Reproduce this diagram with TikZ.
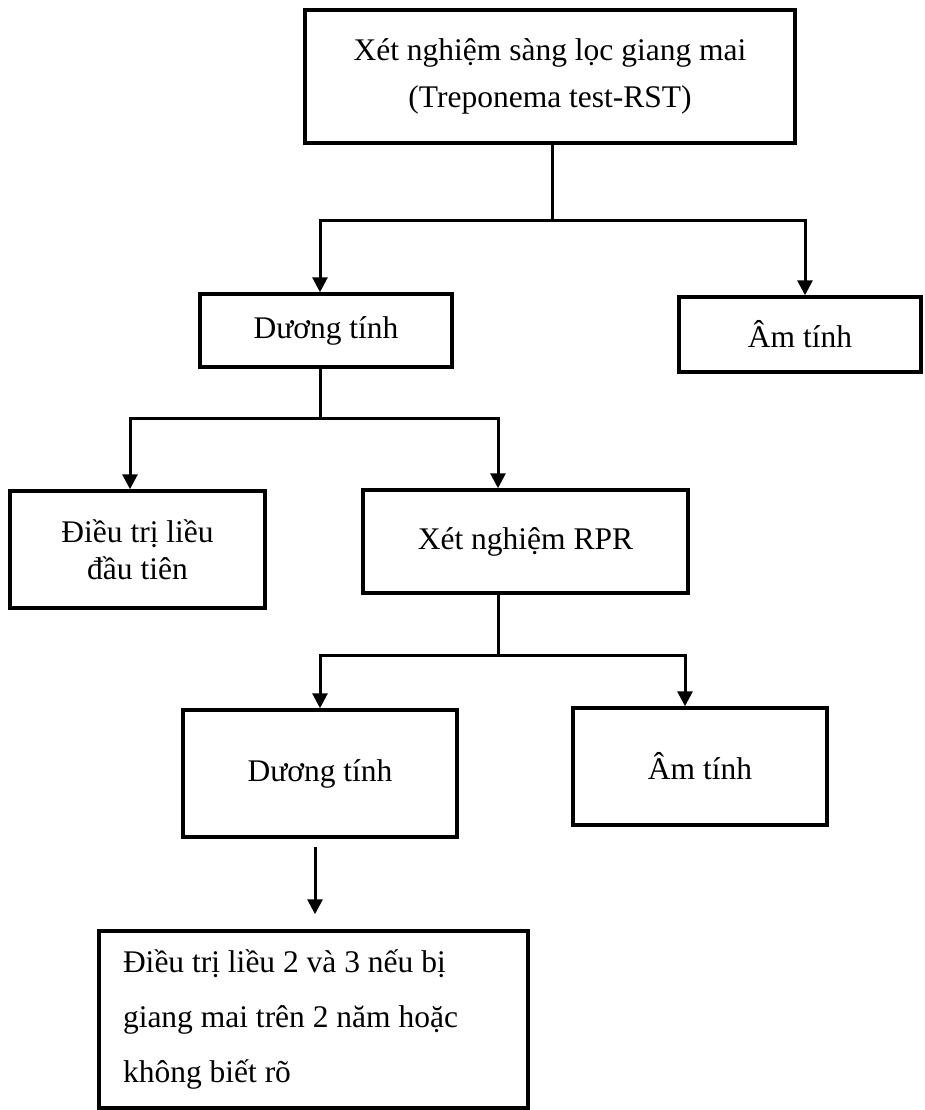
\documentclass[tikz,border=0pt]{standalone}
\usepackage{fontspec}
\setmainfont{Liberation Serif}
\usetikzlibrary{arrows.meta}
\tikzset{
  box/.style={draw=black, line width=3.5pt, inner sep=0pt, align=center, font=\fontsize{31.5}{38}\selectfont},
  conn/.style={draw=black, line width=3pt},
  arr/.style={conn, -{Triangle[width=15pt,length=15pt]}},
}
\begin{document}
\begin{tikzpicture}[x=1pt,y=-1pt]
\useasboundingbox (0,0) rectangle (924,1110);
% boxes
\node[box, minimum width=490pt, minimum height=133pt, font=\fontsize{31.5}{47}\selectfont] (top) at (550,76.5)
  {Xét nghiệm sàng lọc giang mai\\(Treponema test-RST)};
\node[box, minimum width=252pt, minimum height=73pt] (d1) at (326,330.5) {Dương tính};
\node[box, minimum width=242pt, minimum height=75pt] (a1) at (800,334.5) {Âm tính};
\node[box, minimum width=255pt, minimum height=117pt, font=\fontsize{31.5}{37}\selectfont] (t1) at (137.5,549.5)
  {Điều trị liều\\đầu tiên};
\node[box, minimum width=325pt, minimum height=103pt] (r) at (525.5,541.5) {Xét nghiệm RPR};
\node[box, minimum width=274pt, minimum height=127pt] (d2) at (320,773.5) {Dương tính};
\node[box, minimum width=254pt, minimum height=117pt] (a2) at (700,766.5) {Âm tính};
\node[box, minimum width=429pt, minimum height=177pt, align=flush left, text width=381pt, inner xsep=24pt,
  font=\fontsize{31.5}{55}\selectfont] (b) at (313.5,1019.5)
  {Điều trị liều 2 và 3 nếu bị\\giang mai trên 2 năm hoặc\\không biết rõ};
% junctions
\coordinate (j1) at (552,220);
\coordinate (j2) at (320,418);
\coordinate (j3) at (498,655);
% connectors
\draw[conn] (top.south -| j1) -- (j1);
\draw[arr] (j1) -| ([xshift=-6pt]d1.north);
\draw[arr] (j1) -| ([xshift=5pt]a1.north);
\draw[conn] (d1.south -| j2) -- (j2);
\draw[arr] (j2) -| ([xshift=-7.5pt]t1.north);
\draw[arr] (j2) -| (r.north -| j3);
\draw[conn] (r.south -| j3) -- (j3);
\draw[arr] (j3) -| (d2.north);
\draw[arr] (j3) -| ([xshift=-15pt]a2.north);
\draw[arr, shorten <=8pt, shorten >=15pt] ([xshift=-5pt]d2.south) -- ([xshift=1.5pt]b.north);
\end{tikzpicture}
\end{document}
